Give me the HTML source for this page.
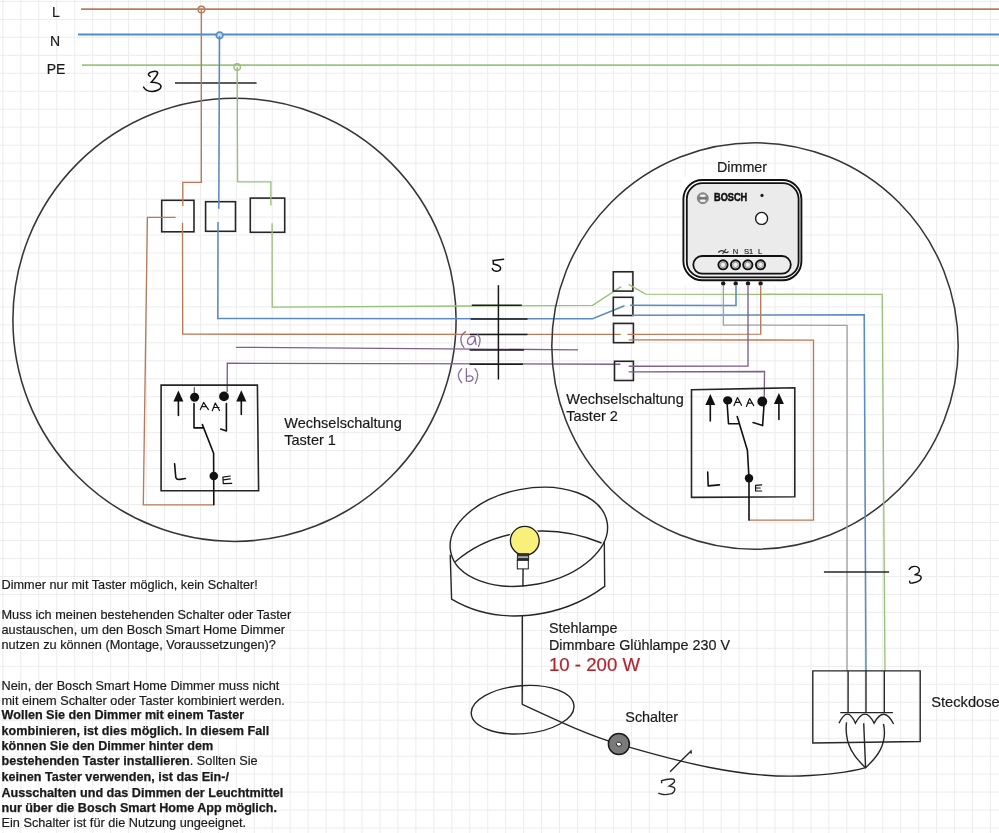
<!DOCTYPE html>
<html><head><meta charset="utf-8"><title>Dimmer Schaltplan</title>
<style>html,body{margin:0;padding:0;background:#fff;width:999px;height:833px;overflow:hidden}svg{display:block;will-change:transform}</style>
</head><body>
<svg width="999" height="833" viewBox="0 0 999 833">
<rect width="999" height="833" fill="#ffffff"/>
<g stroke="#ececec" stroke-width="1">
<line x1="2.90" y1="0" x2="2.90" y2="833"/>
<line x1="20.86" y1="0" x2="20.86" y2="833"/>
<line x1="38.81" y1="0" x2="38.81" y2="833"/>
<line x1="56.77" y1="0" x2="56.77" y2="833"/>
<line x1="74.72" y1="0" x2="74.72" y2="833"/>
<line x1="92.68" y1="0" x2="92.68" y2="833"/>
<line x1="110.64" y1="0" x2="110.64" y2="833"/>
<line x1="128.59" y1="0" x2="128.59" y2="833"/>
<line x1="146.55" y1="0" x2="146.55" y2="833"/>
<line x1="164.50" y1="0" x2="164.50" y2="833"/>
<line x1="182.46" y1="0" x2="182.46" y2="833"/>
<line x1="200.42" y1="0" x2="200.42" y2="833"/>
<line x1="218.37" y1="0" x2="218.37" y2="833"/>
<line x1="236.33" y1="0" x2="236.33" y2="833"/>
<line x1="254.28" y1="0" x2="254.28" y2="833"/>
<line x1="272.24" y1="0" x2="272.24" y2="833"/>
<line x1="290.20" y1="0" x2="290.20" y2="833"/>
<line x1="308.15" y1="0" x2="308.15" y2="833"/>
<line x1="326.11" y1="0" x2="326.11" y2="833"/>
<line x1="344.06" y1="0" x2="344.06" y2="833"/>
<line x1="362.02" y1="0" x2="362.02" y2="833"/>
<line x1="379.98" y1="0" x2="379.98" y2="833"/>
<line x1="397.93" y1="0" x2="397.93" y2="833"/>
<line x1="415.89" y1="0" x2="415.89" y2="833"/>
<line x1="433.84" y1="0" x2="433.84" y2="833"/>
<line x1="451.80" y1="0" x2="451.80" y2="833"/>
<line x1="469.76" y1="0" x2="469.76" y2="833"/>
<line x1="487.71" y1="0" x2="487.71" y2="833"/>
<line x1="505.67" y1="0" x2="505.67" y2="833"/>
<line x1="523.62" y1="0" x2="523.62" y2="833"/>
<line x1="541.58" y1="0" x2="541.58" y2="833"/>
<line x1="559.54" y1="0" x2="559.54" y2="833"/>
<line x1="577.49" y1="0" x2="577.49" y2="833"/>
<line x1="595.45" y1="0" x2="595.45" y2="833"/>
<line x1="613.40" y1="0" x2="613.40" y2="833"/>
<line x1="631.36" y1="0" x2="631.36" y2="833"/>
<line x1="649.32" y1="0" x2="649.32" y2="833"/>
<line x1="667.27" y1="0" x2="667.27" y2="833"/>
<line x1="685.23" y1="0" x2="685.23" y2="833"/>
<line x1="703.18" y1="0" x2="703.18" y2="833"/>
<line x1="721.14" y1="0" x2="721.14" y2="833"/>
<line x1="739.10" y1="0" x2="739.10" y2="833"/>
<line x1="757.05" y1="0" x2="757.05" y2="833"/>
<line x1="775.01" y1="0" x2="775.01" y2="833"/>
<line x1="792.96" y1="0" x2="792.96" y2="833"/>
<line x1="810.92" y1="0" x2="810.92" y2="833"/>
<line x1="828.88" y1="0" x2="828.88" y2="833"/>
<line x1="846.83" y1="0" x2="846.83" y2="833"/>
<line x1="864.79" y1="0" x2="864.79" y2="833"/>
<line x1="882.74" y1="0" x2="882.74" y2="833"/>
<line x1="900.70" y1="0" x2="900.70" y2="833"/>
<line x1="918.66" y1="0" x2="918.66" y2="833"/>
<line x1="936.61" y1="0" x2="936.61" y2="833"/>
<line x1="954.57" y1="0" x2="954.57" y2="833"/>
<line x1="972.52" y1="0" x2="972.52" y2="833"/>
<line x1="990.48" y1="0" x2="990.48" y2="833"/>
<line x1="0" y1="1.40" x2="999" y2="1.40"/>
<line x1="0" y1="19.37" x2="999" y2="19.37"/>
<line x1="0" y1="37.34" x2="999" y2="37.34"/>
<line x1="0" y1="55.31" x2="999" y2="55.31"/>
<line x1="0" y1="73.28" x2="999" y2="73.28"/>
<line x1="0" y1="91.25" x2="999" y2="91.25"/>
<line x1="0" y1="109.22" x2="999" y2="109.22"/>
<line x1="0" y1="127.19" x2="999" y2="127.19"/>
<line x1="0" y1="145.16" x2="999" y2="145.16"/>
<line x1="0" y1="163.13" x2="999" y2="163.13"/>
<line x1="0" y1="181.10" x2="999" y2="181.10"/>
<line x1="0" y1="199.07" x2="999" y2="199.07"/>
<line x1="0" y1="217.04" x2="999" y2="217.04"/>
<line x1="0" y1="235.01" x2="999" y2="235.01"/>
<line x1="0" y1="252.98" x2="999" y2="252.98"/>
<line x1="0" y1="270.95" x2="999" y2="270.95"/>
<line x1="0" y1="288.92" x2="999" y2="288.92"/>
<line x1="0" y1="306.89" x2="999" y2="306.89"/>
<line x1="0" y1="324.86" x2="999" y2="324.86"/>
<line x1="0" y1="342.83" x2="999" y2="342.83"/>
<line x1="0" y1="360.80" x2="999" y2="360.80"/>
<line x1="0" y1="378.77" x2="999" y2="378.77"/>
<line x1="0" y1="396.74" x2="999" y2="396.74"/>
<line x1="0" y1="414.71" x2="999" y2="414.71"/>
<line x1="0" y1="432.68" x2="999" y2="432.68"/>
<line x1="0" y1="450.65" x2="999" y2="450.65"/>
<line x1="0" y1="468.62" x2="999" y2="468.62"/>
<line x1="0" y1="486.59" x2="999" y2="486.59"/>
<line x1="0" y1="504.56" x2="999" y2="504.56"/>
<line x1="0" y1="522.53" x2="999" y2="522.53"/>
<line x1="0" y1="540.50" x2="999" y2="540.50"/>
<line x1="0" y1="558.47" x2="999" y2="558.47"/>
<line x1="0" y1="576.44" x2="999" y2="576.44"/>
<line x1="0" y1="594.41" x2="999" y2="594.41"/>
<line x1="0" y1="612.38" x2="999" y2="612.38"/>
<line x1="0" y1="630.35" x2="999" y2="630.35"/>
<line x1="0" y1="648.32" x2="999" y2="648.32"/>
<line x1="0" y1="666.29" x2="999" y2="666.29"/>
<line x1="0" y1="684.26" x2="999" y2="684.26"/>
<line x1="0" y1="702.23" x2="999" y2="702.23"/>
<line x1="0" y1="720.20" x2="999" y2="720.20"/>
<line x1="0" y1="738.17" x2="999" y2="738.17"/>
<line x1="0" y1="756.14" x2="999" y2="756.14"/>
<line x1="0" y1="774.11" x2="999" y2="774.11"/>
<line x1="0" y1="792.08" x2="999" y2="792.08"/>
<line x1="0" y1="810.05" x2="999" y2="810.05"/>
<line x1="0" y1="828.02" x2="999" y2="828.02"/>
</g>

<!-- labels -->
<g font-family="Liberation Sans, sans-serif" font-size="14" fill="#1a1a1a" stroke="#1a1a1a" stroke-width="0.18" text-anchor="middle">
<text x="56" y="17">L</text>
<text x="55" y="45.5">N</text>
<text x="56" y="74">PE</text>
</g>

<g fill="none" stroke-linejoin="miter" stroke-linecap="butt">
<!-- main bus lines -->
<line x1="81" y1="9.2" x2="999" y2="9.2" stroke="#bf7c5c" stroke-width="1.7"/>
<line x1="78" y1="34.5" x2="999" y2="34.5" stroke="#4a8dca" stroke-width="1.8"/>
<line x1="82" y1="65.2" x2="999" y2="65.2" stroke="#9cc47e" stroke-width="1.7"/>
<circle cx="201.4" cy="9.6" r="3.3" stroke="#b87a58" stroke-width="1.4"/>
<circle cx="219.6" cy="35.4" r="3.3" fill="#bfe0f8" stroke="#5a8cbf" stroke-width="1.7"/>
<circle cx="237.2" cy="67" r="3.2" stroke="#98c17a" stroke-width="1.4"/>

<!-- cable marker 3 top -->
<line x1="175" y1="83" x2="256.6" y2="83" stroke="#262626" stroke-width="1.5"/>
<path d="M150.2 76.4 C147 75, 148.5 72.5, 152 71.8 C155 71, 158 71, 157.6 73.5 C157 76, 153 80, 151.3 82.2 C155 82, 161 83.5, 161 86.5 C161 90, 155 91.5, 151.7 91.4 C148 91.3, 145 89.5, 143.6 87.1" stroke="#111" stroke-width="1.5" stroke-linecap="round"/>

<!-- left circle -->
<circle cx="234.5" cy="319.8" r="221.6" stroke="#363636" stroke-width="1.55"/>

<!-- left boxes -->
<rect x="161.7" y="200.3" width="32.3" height="31.5" stroke="#262626" stroke-width="1.6"/>
<rect x="205.6" y="201.7" width="29.9" height="29.6" stroke="#262626" stroke-width="1.6"/>
<rect x="250.3" y="198.1" width="34.4" height="34.2" stroke="#262626" stroke-width="1.6"/>

<!-- L wires left -->
<polyline points="201.4,9.6 201.3,182.4 182.8,182.4 182.8,206" stroke="#b87a58" stroke-width="1.35"/>
<polyline points="182.5,222.8 182.7,334.2 620.8,334.4" stroke="#b87a58" stroke-width="1.35"/>
<polyline points="175.6,217.3 147.4,217.3 143.3,504.8 213.5,504.8" stroke="#b87a58" stroke-width="1.35"/>
<!-- N wires left -->
<polyline points="219.5,36 218.8,208.8" stroke="#5a8cbf" stroke-width="1.55"/>
<polyline points="218,222 217.8,318.4 592.6,318.8 624.5,305.7" stroke="#5a8cbf" stroke-width="1.55"/>
<!-- PE wires left -->
<polyline points="237.2,67 237.6,181.9 270.9,181.9 270.9,205.4" stroke="#98c17a" stroke-width="1.35"/>
<polyline points="272.1,223.3 272.2,307.1 470,306 592.6,305.4 621.2,286.6" stroke="#98c17a" stroke-width="1.35"/>
<!-- purple -->
<polyline points="236.1,347.3 578,349.8" stroke="#7d5f8c" stroke-width="1.35"/>
<polyline points="227.2,392 227.3,363.3 620.3,364.2" stroke="#7d5f8c" stroke-width="1.35"/>

<!-- switch box 1 -->
<path d="M161.1 385.1 L257.4 385.1 L258.6 490.7 L161.1 490.7 Z" stroke="#262626" stroke-width="1.6"/>
<g stroke="#111" stroke-width="1.6" stroke-linecap="round" stroke-linejoin="round">
<line x1="178.4" y1="400" x2="178.4" y2="415.4"/>
<line x1="241.3" y1="400" x2="241.3" y2="414.5"/>
<polyline points="194,403.6 194,427.9 203,427.9"/>
<polyline points="202.4,424.6 213.6,453.2 213.8,504.8"/>
<polyline points="226.4,403.6 226.4,430.9 220.7,429.1"/>
<line x1="194.3" y1="387.7" x2="194.3" y2="394" stroke="#555" stroke-width="1.2"/>
<path d="M174.6 463.8 L175.8 477.5 C176.5 479.5, 178 479.8, 180 479.4 L185.4 478.5"/>
<path d="M200.3 409.6 L203.6 402.4 L208.4 409.6 M201.8 406.6 L206.4 406.6 M212.3 410.8 L215.3 403 L219.5 410.5 M213.6 407.5 L219 407.5" stroke-width="1.2"/>
<path d="M230.3 476 L222.9 477.1 L223.3 483.7 L231.7 483.4 M223.3 479.9 L230.3 478.8" stroke-width="1.2"/>
</g>
<g fill="#111" stroke="none">
<path d="M178.4 390.5 L173.4 401.5 L183.4 401.5 Z"/>
<path d="M241.3 390.2 L236.2 401.5 L246.4 401.5 Z"/>
<circle cx="194.6" cy="397.3" r="4.5"/>
<circle cx="224" cy="396.4" r="4.9"/>
<circle cx="213.8" cy="476" r="4.3"/>
</g>

<!-- center 5 bundle -->
<line x1="498.4" y1="285.2" x2="498.4" y2="379.5" stroke="#1a1a1a" stroke-width="1.5"/>
<g stroke="#1a1a1a" stroke-width="1.5">
<line x1="471.8" y1="305.3" x2="521.8" y2="305.3"/>
<line x1="470.7" y1="319" x2="527.5" y2="319"/>
<line x1="470" y1="334.6" x2="527.5" y2="334.6"/>
<line x1="469.6" y1="349.9" x2="524" y2="349.9"/>
<line x1="469.6" y1="364.3" x2="523" y2="364.3"/>
</g>
<path d="M503.6 259.3 C500 259.8, 496 260.2, 493.1 260.5 L493.4 264.1 C496 264.6, 500 265.5, 500.6 268 C501 270.5, 498 271.5, 495.8 271.3 C494 271.2, 492.8 270, 492.2 268.6" stroke="#111" stroke-width="1.5" stroke-linecap="round"/>
<g stroke="#8a6c9a" stroke-width="1.3" stroke-linecap="round">
<path d="M465.6 331.6 C462 334, 460.5 338, 460.9 340.6 C461.2 343.5, 462.5 346, 464 347.6"/>
<path d="M475 337 C472 335.5, 468 337, 467.5 340.5 C467 343.5, 469 345, 471 344.5 C473.5 344, 475 340, 475 337 L476 344.5"/>
<path d="M477.7 334.4 C479.5 336.5, 480.3 339, 480 341 C479.8 343, 479.2 345, 478.5 346.4"/>
<path d="M461.7 368.7 C459.5 371, 458.3 373.5, 458.4 375.7 C458.5 378.5, 460 381, 461.7 382.7"/>
<path d="M466.4 368.7 L466.4 381.1 M466.4 377 C468.5 375.5, 472.5 375.5, 473 377.8 C473.5 380.5, 469.5 382, 466.6 381"/>
<path d="M475 368.7 C476.8 370.5, 477.8 373, 477.7 374.9 C477.6 378, 476.5 381, 475.3 383.5"/>
</g>

<!-- right circle -->
<circle cx="755" cy="346" r="203.2" stroke="#363636" stroke-width="1.55"/>

<!-- right boxes -->
<rect x="613.3" y="271.8" width="19.6" height="19.3" stroke="#262626" stroke-width="1.6"/>
<rect x="613.3" y="297.3" width="19.6" height="18.2" stroke="#262626" stroke-width="1.6"/>
<rect x="613.5" y="323.4" width="19.9" height="19.3" stroke="#262626" stroke-width="1.6"/>
<rect x="614.5" y="361.3" width="18.9" height="19.2" stroke="#262626" stroke-width="1.6"/>

<!-- right wires -->
<polyline points="628.7,284.4 645.5,294.2 882.2,294.4 885,671" stroke="#98c17a" stroke-width="1.35"/>
<polyline points="736,284 736,305.4 630,305.2" stroke="#5a8cbf" stroke-width="1.55"/>
<polyline points="632,315.3 864.2,314.8 866,671" stroke="#5a8cbf" stroke-width="1.55"/>
<polyline points="723.4,284 723.4,325.1 847.1,325.3 847,671" stroke="#a2a2a2" stroke-width="1.35"/>
<polyline points="760.7,284 760.7,334.2 627.4,334.3" stroke="#b87a58" stroke-width="1.35"/>
<polyline points="628.7,339.9 813.5,340.1 813.5,520.1 749,520.1" stroke="#b87a58" stroke-width="1.35"/>
<polyline points="748,284 748,366.1 628.7,366.2" stroke="#7d5f8c" stroke-width="1.35"/>
<polyline points="628.7,371.8 764.5,371.5 764.2,401" stroke="#7d5f8c" stroke-width="1.35"/>

<!-- switch box 2 -->
<path d="M691.5 389.8 L794.8 387.7 L794.8 496.8 L691.5 497.4 Z" stroke="#262626" stroke-width="1.6"/>
<g stroke="#111" stroke-width="1.6" stroke-linecap="round" stroke-linejoin="round">
<line x1="710.3" y1="404" x2="710.3" y2="420.9"/>
<line x1="778.9" y1="403" x2="778.9" y2="419.5"/>
<polyline points="726.9,400 728.5,423.7 738.5,423.7"/>
<polyline points="737.2,416.6 747.4,450.2 749,478.3 749,520.1"/>
<polyline points="764.2,402 762.6,425.6 753.1,422.6"/>
<path d="M707.7 472.1 L708.2 485.9 L719.4 484.9"/>
<path d="M734 405.6 L737.5 397.5 L741.5 405.3 M735.3 402.3 L740 402.3 M746.4 406.4 L749.6 398.5 L753.7 405.6 M747.5 403.1 L752.5 403.1" stroke-width="1.2"/>
<path d="M761.7 484.9 L755.6 485.4 L755.6 491 L761.7 491 M755.6 488 L760.2 488" stroke-width="1.2"/>
</g>
<g fill="#111" stroke="none">
<path d="M710.3 394 L705.3 405 L715.3 405 Z"/>
<path d="M778.9 393 L773.9 404 L783.9 404 Z"/>
<ellipse cx="727.7" cy="400.4" rx="4.6" ry="4.2"/>
<circle cx="762.3" cy="401.5" r="4.9"/>
<circle cx="749" cy="478.3" r="4.2"/>
</g>

<!-- right cable marker 3 -->
<line x1="823.9" y1="572.1" x2="889.1" y2="572.1" stroke="#262626" stroke-width="1.5"/>
<path d="M909.2 569.4 C910.5 567, 913 566.3, 915 566.4 C918 566.5, 919.8 568.5, 919.3 571 C919 572.8, 916 574.3, 914.4 574.8 C917 574.5, 921.5 575.5, 921.2 577.8 C920.8 580.5, 916 582.3, 912.6 583 C911 583.3, 909.5 583.5, 909.7 581.2" stroke="#111" stroke-width="1.4" stroke-linecap="round"/>

<!-- dimmer -->
<rect x="681.5" y="176.5" width="121.5" height="109.5" fill="#ffffff" stroke="none"/>
<rect x="683.4" y="180" width="118" height="100.3" rx="19" fill="#ffffff" stroke="#111" stroke-width="1.9"/>
<rect x="686.8" y="183.1" width="111.8" height="94.3" rx="16" fill="#ebebeb" stroke="#111" stroke-width="1.8"/>
<rect x="693.3" y="256" width="97.5" height="17.6" rx="8.8" fill="#ececec" stroke="#111" stroke-width="1.8"/>
<circle cx="761.6" cy="218.4" r="6" fill="#ffffff" stroke="#1a1a1a" stroke-width="1.4"/>
<circle cx="762" cy="195.4" r="1.6" fill="#1a1a1a" stroke="none"/>
<circle cx="702.8" cy="198.2" r="5.5" fill="#8c8c8c" stroke="#777" stroke-width="0.8"/>
<ellipse cx="702.8" cy="195.7" rx="3" ry="1.3" fill="#f2f2f2"/>
<ellipse cx="702.8" cy="200.7" rx="3" ry="1.3" fill="#f2f2f2"/>
<line x1="698.5" y1="198.2" x2="707.1" y2="198.2" stroke="#666" stroke-width="1"/>
<g fill="#d8d8d8" stroke="#111" stroke-width="1.9">
<circle cx="723" cy="264.8" r="4.6"/>
<circle cx="735.5" cy="264.8" r="4.6"/>
<circle cx="747.8" cy="264.8" r="4.6"/>
<circle cx="760.5" cy="264.8" r="4.6"/>
</g>
<g fill="#eeeeee" stroke="#8a8a8a" stroke-width="0.9">
<circle cx="723" cy="264.8" r="2.7"/>
<circle cx="735.5" cy="264.8" r="2.7"/>
<circle cx="747.8" cy="264.8" r="2.7"/>
<circle cx="760.5" cy="264.8" r="2.7"/>
</g>
<g fill="#1a1a1a" stroke="none">
<circle cx="723.2" cy="283.4" r="2.2"/>
<circle cx="735.7" cy="283.4" r="2.2"/>
<circle cx="748" cy="283.4" r="2.2"/>
<circle cx="760.6" cy="283.4" r="2.2"/>
</g>
<path d="M718.3 252.5 C720 250.5, 722 250, 724 251.5 C725.5 253, 727 253, 728.5 251.5 M722.5 254 L726 249" stroke="#333" stroke-width="1.2"/>
</g>

<g font-family="Liberation Sans, sans-serif" fill="#1a1a1a" stroke="#1a1a1a" stroke-width="0.18">
<text x="716.9" y="172.2" font-size="14.35">Dimmer</text>
<text x="714" y="201.3" font-size="10.1" font-weight="bold" fill="#111" stroke="#111" stroke-width="0.5" textLength="33.2" lengthAdjust="spacingAndGlyphs">BOSCH</text>
<text x="735.6" y="254" font-size="7.6" text-anchor="middle" fill="#333">N</text>
<text x="748.6" y="254" font-size="7.6" text-anchor="middle" fill="#333">S1</text>
<text x="760.2" y="254" font-size="7.6" text-anchor="middle" fill="#333">L</text>
<text x="284.3" y="428" font-size="14.5">Wechselschaltung</text>
<text x="284.3" y="445" font-size="14.5">Taster 1</text>
<text x="566.3" y="404" font-size="14.5">Wechselschaltung</text>
<text x="566.3" y="420.7" font-size="14.5">Taster 2</text>
<text x="549" y="632.6" font-size="14.35">Stehlampe</text>
<text x="549" y="650.4" font-size="14.35">Dimmbare Glühlampe 230 V</text>
<text x="549" y="670.5" font-size="18.6" fill="#b4232b" stroke="#b4232b">10 - 200 W</text>
<text x="625.3" y="721.5" font-size="14.4">Schalter</text>
<text x="931.2" y="707" font-size="14.7">Steckdose</text>
</g>

<g fill="none" stroke="#262626" stroke-width="1.4">
<!-- lamp shade -->
<ellipse cx="528.85" cy="536.8" rx="79.6" ry="48.1" transform="rotate(-10.9 528.85 536.8)"/>
<path d="M455 562 C495.1 527.3, 553.7 523, 601.6 543"/>
<path d="M450.2 554.8 L451.6 599.2 C498.5 627.2, 561.9 618.1, 604.7 586.4 L604.3 541.5"/>
<line x1="523.1" y1="569" x2="522.9" y2="586.5"/>
<line x1="522.3" y1="615" x2="522.2" y2="704.4"/>
<!-- base ellipse -->
<ellipse cx="522.6" cy="709.7" rx="51.5" ry="24" transform="rotate(-4.5 522.6 709.7)"/>
<!-- cord -->
<path d="M522.2 704.4 C560 722, 590 736, 618.6 744.1 C680 762, 740 778, 800 776 C830 775, 850 772, 865.6 767.7"/>
<path d="M670.1 771.7 L691 750.9 L691.3 753.6"/>
<path d="M661.6 783.3 L661.6 780.7 C665 779.5, 671 778.8, 673.8 779.3 C675 780, 674.5 781.5, 674.4 782 C673 783.5, 671 785, 669.2 786 C672 786.5, 675 787.5, 674.8 789.3 C674.5 792, 672 793.5, 670.5 793.9 C668 794.5, 665 794.8, 663.2 794.5 C661 794.2, 659.5 793.8, 658.3 793.2"/>
<!-- steckdose -->
<path d="M812.8 670.9 L920.2 670.9 L920.2 741.5 L812.8 743 Z"/>
<line x1="848.1" y1="671" x2="848.1" y2="712.6"/>
<line x1="866" y1="671" x2="866" y2="712.6"/>
<line x1="884.3" y1="671" x2="884.3" y2="712.6"/>
<line x1="840.3" y1="712.6" x2="892.9" y2="712.6"/>
<path d="M839 723.2 Q847.6 705, 855.4 723.2 Q865 705, 874.1 723.2 Q884 705, 893.6 724"/>
<path d="M846.5 722.4 C844 745, 855 758, 865.6 767.7 C876 758, 888 745, 883.5 724"/>
<line x1="863.7" y1="723.2" x2="865.6" y2="767.7"/>
</g>

<!-- bulb -->
<circle cx="524.8" cy="540.8" r="16" fill="#ffffff" stroke="none"/>
<circle cx="524.8" cy="540.8" r="14.4" fill="#f8f07a" stroke="#1a1a1a" stroke-width="1.3"/>
<rect x="517.3" y="553.7" width="11.4" height="6.6" fill="#333" stroke="#1a1a1a" stroke-width="0.8"/>
<rect x="518" y="556.3" width="10" height="1.6" fill="#bbb" stroke="none"/>
<rect x="517.3" y="560.3" width="11" height="8.6" fill="#fff" stroke="#1a1a1a" stroke-width="1"/>
<!-- Schalter knob -->
<circle cx="618.9" cy="744" r="10.5" fill="#7a7a7a" stroke="#1a1a1a" stroke-width="1.5"/>
<ellipse cx="618.9" cy="744.2" rx="2.6" ry="2" transform="rotate(15 618.9 744.2)" fill="#fff" stroke="#1a1a1a" stroke-width="0.9"/>

<!-- text block -->
<g font-family="Liberation Sans, sans-serif" font-size="12.72" fill="#1a1a1a" stroke="#1a1a1a" stroke-width="0.18">
<text x="1.5" y="589">Dimmer nur mit Taster möglich, kein Schalter!</text>
<text x="1.5" y="619.2">Muss ich meinen bestehenden Schalter oder Taster</text>
<text x="1.5" y="634">austauschen, um den Bosch Smart Home Dimmer</text>
<text x="1.5" y="648.8">nutzen zu können (Montage, Voraussetzungen)?</text>
<text x="1.5" y="689.7">Nein, der Bosch Smart Home Dimmer muss nicht</text>
<text x="1.5" y="704.5">mit einem Schalter oder Taster kombiniert werden.</text>
<text x="1.5" y="719.4" font-weight="bold" font-size="12.62" stroke-width="0.25">Wollen Sie den Dimmer mit einem Taster</text>
<text x="1.5" y="734.6" font-weight="bold" font-size="12.62" stroke-width="0.25">kombinieren, ist dies möglich. In diesem Fall</text>
<text x="1.5" y="749.8" font-weight="bold" font-size="12.62" stroke-width="0.25">können Sie den Dimmer hinter dem</text>
<text x="1.5" y="765.2"><tspan font-weight="bold" font-size="12.62" stroke-width="0.25">bestehenden Taster installieren</tspan>. Sollten Sie</text>
<text x="1.5" y="780.7" font-weight="bold" font-size="12.62" stroke-width="0.25">keinen Taster verwenden, ist das Ein-/</text>
<text x="1.5" y="796.5" font-weight="bold" font-size="12.62" stroke-width="0.25">Ausschalten und das Dimmen der Leuchtmittel</text>
<text x="1.5" y="811.6" font-weight="bold" font-size="12.62" stroke-width="0.25">nur über die Bosch Smart Home App möglich.</text>
<text x="1.5" y="826.9">Ein Schalter ist für die Nutzung ungeeignet.</text>
</g>
</svg>
</body></html>
